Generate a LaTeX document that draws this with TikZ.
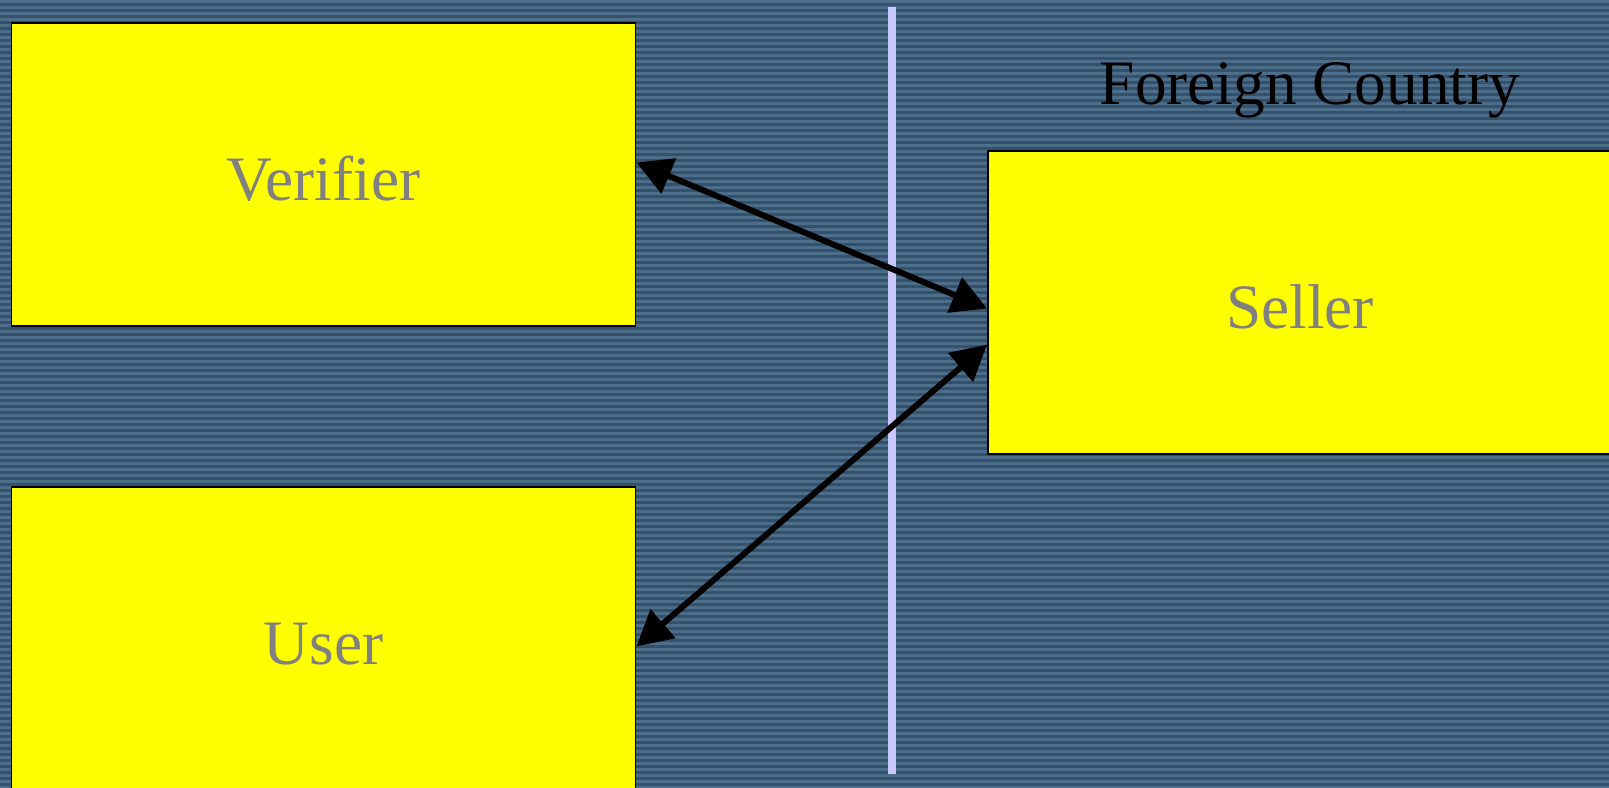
\documentclass[tikz,border=0pt]{standalone}
\usepackage{fontspec}
\setmainfont{Liberation Serif}
\usepackage{tikz}
\usetikzlibrary{arrows.meta,calc}

\definecolor{bgdark}{HTML}{34506A}
\definecolor{bglight}{HTML}{4C6E8B}
\definecolor{boxyellow}{HTML}{FFFF00}
\definecolor{labelgray}{HTML}{808080}
\definecolor{border}{HTML}{C8C8FF}

\begin{document}
\begin{tikzpicture}[
  x=0.01cm, y=-0.01cm,
  party/.style={draw=black, line width=0.4pt, fill=boxyellow, text=labelgray,
    minimum width=6.24cm, minimum height=3.03cm, inner sep=0pt,
    text height=0.52cm, text depth=0pt, font=\fontsize{18}{21}\selectfont},
  link/.style={line width=1.7pt, {Triangle[length=10pt,width=10.5pt]}-{Triangle[length=10pt,width=10.5pt]}}
]
\useasboundingbox (0,0) rectangle (1609,787);
\clip (0,0) rectangle (1609,787);

% striped background
\fill[bgdark] (0,0) rectangle (1609,787);
\foreach \y in {0,6,...,786} {
  \fill[bglight] (0,\y) rectangle (1609,\y+3);
}

% border line
\fill[border] (888,7) rectangle (896,774);

\node[party] (verifier) at (323.5,174.5) {Verifier};
\node[party] (user) at (323.5,638.5) {User};
\node[party] (seller) at (1300,302.5) {Seller};

\node[font=\fontsize{18}{21}\selectfont, text=black] (foreign) at (1310,90) {Foreign Country};

\draw[link] ([yshift=0.12cm]verifier.east) -- ([yshift=-0.06cm]seller.west);
\draw[link] ([yshift=-0.08cm]user.east) -- ([yshift=-0.42cm]seller.west);
\end{tikzpicture}
\end{document}
